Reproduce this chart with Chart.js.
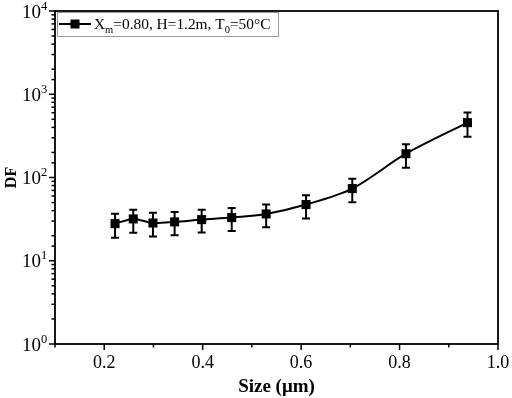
<!DOCTYPE html>
<html>
<head>
<meta charset="utf-8">
<script src="https://cdn.jsdelivr.net/npm/chart.js@4.4.0/dist/chart.umd.min.js"></script>
<style>
body { margin: 0; background: #fff; }
</style>
</head>
<body>
<canvas id="df_chart" width="512" height="398"></canvas>
<script>
// values
const sizes = [0.222, 0.259, 0.299, 0.343, 0.398, 0.459, 0.529, 0.610, 0.704, 0.813, 0.938];
const df_values = [27.9, 31.8, 28.4, 29.3, 31.2, 33.0, 36.5, 47.3, 73.6, 193, 456];
const df_upper = [36.8, 41.0, 37.6, 38.6, 41.0, 43.0, 47.3, 61.2, 96.4, 250, 603];
const df_lower = [18.9, 21.7, 19.6, 20.2, 21.9, 22.8, 25.2, 32.1, 50.5, 131, 309];
const x_tick_labels = ['0.2', '0.4', '0.6', '0.8', '1.0'];
const y_tick_exponents = ['0', '1', '2', '3', '4'];
const legend_parts = [['X', ''], ['m', 'sub'], ['=0.80, H=1.2m, T', ''], ['0', 'sub'], ['=50\u00b0C', '']];

const SERIF = "'Liberation Serif', 'Times New Roman', serif";

function xLabel(value){
    const s = Number(value).toFixed(1);
    return x_tick_labels.includes(s) ? s : '';
}

function isDecade(value){
    const e = Math.log10(value);
    return Math.abs(e - Math.round(e)) < 1e-9;
}

// frame, tick marks, power-of-ten labels, error bars and legend box
const extrasPlugin = {
    id: 'extras',
    afterDatasetsDraw(chart){
        const ctx = chart.ctx;
        const ca = chart.chartArea;
        const xs = chart.scales.x;
        const ys = chart.scales.y;
        ctx.save();
        ctx.strokeStyle = '#000';
        ctx.fillStyle = '#000';

        // error bars
        ctx.lineWidth = 2;
        for(let i = 0; i < sizes.length; i++){
            const px = xs.getPixelForValue(sizes[i]);
            const top = ys.getPixelForValue(df_upper[i]);
            const bot = ys.getPixelForValue(df_lower[i]);
            ctx.beginPath();
            ctx.moveTo(px, top); ctx.lineTo(px, bot);
            ctx.moveTo(px - 4, top); ctx.lineTo(px + 4, top);
            ctx.moveTo(px - 4, bot); ctx.lineTo(px + 4, bot);
            ctx.stroke();
        }

        // y ticks + labels 10^n
        ctx.lineWidth = 1.5;
        ys.ticks.forEach(t => {
            const py = ys.getPixelForValue(t.value);
            const major = isDecade(t.value);
            const len = major ? 6 : 3.5;
            ctx.beginPath();
            ctx.moveTo(ca.left - len, py); ctx.lineTo(ca.left, py);
            ctx.stroke();
            if(major){
                const e = y_tick_exponents[Math.round(Math.log10(t.value))];
                ctx.textBaseline = 'alphabetic';
                ctx.textAlign = 'right';
                ctx.font = '19px ' + SERIF;
                ctx.fillText('10', ca.left - 14, py + 6.5);
                ctx.textAlign = 'left';
                ctx.font = '12.5px ' + SERIF;
                ctx.fillText(e, ca.left - 14, py - 1.5);
            }
        });
        // x ticks
        xs.ticks.forEach(t => {
            const px = xs.getPixelForValue(t.value);
            const len = xLabel(t.value) ? 6 : 3.5;
            ctx.beginPath();
            ctx.moveTo(px, ca.bottom); ctx.lineTo(px, ca.bottom + len);
            ctx.stroke();
        });

        // frame
        ctx.lineWidth = 1.8;
        ctx.strokeRect(ca.left, ca.top, ca.right - ca.left, ca.bottom - ca.top);

        // legend
        const lx = ca.left + 2, ly = ca.top + 1, lw = 221, lh = 24;
        ctx.fillStyle = '#fff';
        ctx.fillRect(lx, ly, lw, lh);
        ctx.strokeStyle = '#999';
        ctx.lineWidth = 1;
        ctx.strokeRect(lx + 0.5, ly + 0.5, lw, lh);
        const cy = ly + lh / 2;
        ctx.strokeStyle = '#000';
        ctx.lineWidth = 2;
        ctx.beginPath();
        ctx.moveTo(lx + 2, cy); ctx.lineTo(lx + 34, cy);
        ctx.stroke();
        ctx.fillStyle = '#000';
        ctx.fillRect(lx + 18 - 4.5, cy - 4.5, 9, 9);
        let tx = lx + 37;
        const base = cy + 5;
        ctx.textBaseline = 'alphabetic';
        ctx.textAlign = 'left';
        legend_parts.forEach(([txt, kind]) => {
            if(kind === 'sub'){
                ctx.font = '10.5px ' + SERIF;
                ctx.fillText(txt, tx, base + 4);
            }else{
                ctx.font = '15.4px ' + SERIF;
                ctx.fillText(txt, tx, base);
            }
            tx += ctx.measureText(txt).width;
        });
        ctx.restore();
    }
};

const ctx = document.getElementById('df_chart').getContext('2d');
const df_chart = new Chart(ctx, {
    type: 'line',
    data: {
        datasets: [{
            label: 'DF',
            data: sizes.map((s, i) => ({x: s, y: df_values[i]})),
            borderColor: '#000',
            backgroundColor: '#000',
            borderWidth: 2,
            pointStyle: 'rect',
            pointRadius: 6.4,
            pointBorderWidth: 0,
            tension: 0.3,
            fill: false
        }]
    },
    options: {
        responsive: false,
        animation: false,
        layout: { padding: { top: 11, right: 14, left: 0, bottom: 0 } },
        plugins: {
            legend: { display: false },
            tooltip: { enabled: false }
        },
        scales: {
            x: {
                type: 'linear',
                min: 0.1,
                max: 1.0,
                grid: { display: false, drawTicks: false },
                border: { display: false },
                ticks: {
                    stepSize: 0.1,
                    autoSkip: false,
                    maxRotation: 0,
                    padding: 8,
                    color: '#000',
                    font: { family: SERIF, size: 18 },
                    callback: xLabel
                },
                title: {
                    display: true,
                    text: 'Size (\u03bcm)',
                    color: '#000',
                    font: { family: SERIF, size: 19, weight: 'bold' },
                    padding: { top: 0, bottom: 0 }
                },
                afterFit: s => {
                    s.height = 54;
                    s.paddingLeft = 0;
                    s.paddingRight = 0;
                }
            },
            y: {
                type: 'logarithmic',
                min: 1,
                max: 10000,
                grid: { display: false, drawTicks: false },
                border: { display: false },
                ticks: { display: false, autoSkip: false },
                title: {
                    display: true,
                    text: 'DF',
                    color: '#000',
                    font: { family: SERIF, size: 16, weight: 'bold' },
                    padding: { top: 2, bottom: 0 }
                },
                afterFit: s => {
                    s.width = 55;
                    s.paddingTop = 0;
                    s.paddingBottom = 0;
                }
            }
        }
    },
    plugins: [extrasPlugin]
});
</script>
</body>
</html>
